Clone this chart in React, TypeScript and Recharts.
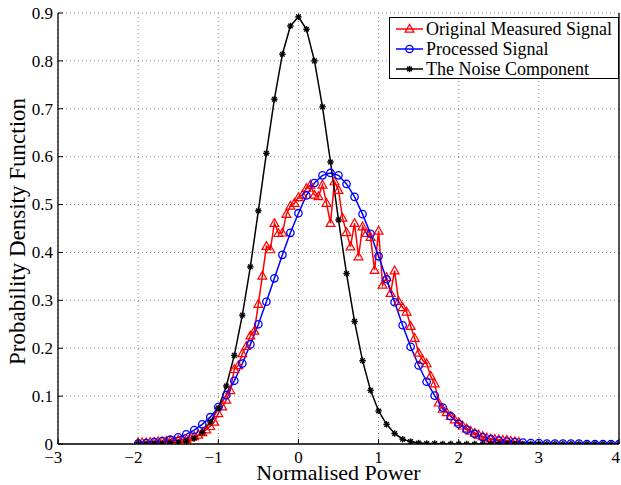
import { LineChart, Line, XAxis, YAxis, CartesianGrid, Legend } from 'recharts'

// sample grid of the processed signal and the noise component (step 0.1)
const GRID_X = [
  -2.0, -1.9, -1.8, -1.7, -1.6, -1.5, -1.4, -1.3, -1.2, -1.1,
  -1.0, -0.9, -0.8, -0.7, -0.6, -0.5, -0.4, -0.3, -0.2, -0.1,
  0.0, 0.1, 0.2, 0.3, 0.4, 0.5, 0.6, 0.7, 0.8, 0.9,
  1.0, 1.1, 1.2, 1.3, 1.4, 1.5, 1.6, 1.7, 1.8, 1.9,
  2.0, 2.1, 2.2, 2.3, 2.4, 2.5, 2.6, 2.7, 2.8, 2.9,
  3.0, 3.1, 3.2, 3.3, 3.4, 3.5, 3.6, 3.7, 3.8, 3.9, 4.0,
]

const PROCESSED = [
  0.001, 0.002, 0.004, 0.006, 0.009, 0.014, 0.020, 0.029, 0.041, 0.056,
  0.077, 0.102, 0.132, 0.168, 0.208, 0.250, 0.297, 0.346, 0.395, 0.441,
  0.482, 0.519, 0.545, 0.561, 0.566, 0.561, 0.543, 0.516, 0.480, 0.439,
  0.392, 0.344, 0.296, 0.248, 0.203, 0.164, 0.130, 0.101, 0.076, 0.058,
  0.042, 0.030, 0.021, 0.014, 0.010, 0.007, 0.005, 0.004, 0.003, 0.002,
  0.002, 0.001, 0.001, 0.001, 0.001, 0.001, 0.000, 0.000, 0.000, 0.000, 0.000,
]

const NOISE = [
  0.000, 0.000, 0.001, 0.001, 0.002, 0.003, 0.006, 0.012, 0.024, 0.046,
  0.075, 0.121, 0.185, 0.269, 0.370, 0.487, 0.607, 0.720, 0.814, 0.873,
  0.892, 0.866, 0.800, 0.704, 0.589, 0.468, 0.356, 0.256, 0.174, 0.112,
  0.069, 0.041, 0.022, 0.010, 0.005, 0.002, 0.001, 0.001, 0.000, 0.000,
  0.000, 0.000, 0.000, 0.000, 0.000, 0.000, 0.000, 0.000, 0.000, 0.000,
  0.000, 0.000, 0.000, 0.000, 0.000, 0.000, 0.000, 0.000, 0.000, 0.000, 0.000,
]

// the measured signal is binned finer (step 0.05)
const MEASURED_X = [
  -2.0, -1.95, -1.9, -1.85, -1.8, -1.75, -1.7, -1.65, -1.6, -1.55,
  -1.5, -1.45, -1.4, -1.35, -1.3, -1.25, -1.2, -1.15, -1.1, -1.05,
  -1.0, -0.95, -0.9, -0.85, -0.8, -0.75, -0.7, -0.65, -0.6, -0.55,
  -0.5, -0.45, -0.4, -0.35, -0.3, -0.25, -0.2, -0.15, -0.1, -0.05,
  0.0, 0.05, 0.1, 0.15, 0.2, 0.25, 0.3, 0.35, 0.4, 0.45,
  0.5, 0.55, 0.6, 0.65, 0.7, 0.75, 0.8, 0.85, 0.9, 0.95,
  1.0, 1.05, 1.1, 1.15, 1.2, 1.25, 1.3, 1.35, 1.4, 1.45,
  1.5, 1.55, 1.6, 1.65, 1.7, 1.75, 1.8, 1.85, 1.9, 1.95,
  2.0, 2.05, 2.1, 2.15, 2.2, 2.25, 2.3, 2.35, 2.4, 2.45,
  2.5, 2.55, 2.6, 2.65, 2.7, 2.75,
]

const MEASURED = [
  0.003, 0.003, 0.003, 0.004, 0.004, 0.005, 0.005, 0.006, 0.006, 0.007,
  0.008, 0.009, 0.010, 0.013, 0.016, 0.019, 0.024, 0.030, 0.037, 0.046,
  0.064, 0.078, 0.092, 0.112, 0.156, 0.164, 0.189, 0.204, 0.226, 0.236,
  0.292, 0.351, 0.413, 0.406, 0.461, 0.440, 0.441, 0.480, 0.497, 0.503,
  0.515, 0.520, 0.534, 0.541, 0.520, 0.517, 0.541, 0.503, 0.461, 0.548,
  0.530, 0.472, 0.442, 0.412, 0.461, 0.391, 0.454, 0.440, 0.432, 0.363,
  0.445, 0.332, 0.348, 0.315, 0.362, 0.298, 0.285, 0.276, 0.246, 0.221,
  0.190, 0.175, 0.168, 0.142, 0.126, 0.086, 0.073, 0.066, 0.058, 0.051,
  0.045, 0.038, 0.032, 0.027, 0.023, 0.019, 0.016, 0.013, 0.011, 0.010,
  0.009, 0.008, 0.008, 0.006, 0.005, 0.004,
]

const X_TICKS = [-3, -2, -1, 0, 1, 2, 3, 4]
const Y_TICKS = [0, 0.1, 0.2, 0.3, 0.4, 0.5, 0.6, 0.7, 0.8, 0.9]

const FONT = '"Liberation Serif", "Times New Roman", serif'
const TICK_SIZE = 17

const rows = (xs: number[], ys: number[]) => xs.map((x, i) => ({ x, y: ys[i] }))

const measuredRows = rows(MEASURED_X, MEASURED)
const processedRows = rows(GRID_X, PROCESSED)
const noiseRows = rows(GRID_X, NOISE)

function triangle(cx: number, cy: number, key?: any) {
  return (
    <path key={key} d={`M${cx},${cy - 4.6}L${cx + 4.4},${cy + 3.2}L${cx - 4.4},${cy + 3.2}Z`}
      fill="none" stroke="#ff0000" strokeWidth={1.2} />
  )
}

function circle(cx: number, cy: number, key?: any) {
  return <circle key={key} cx={cx} cy={cy} r={3.7} fill="none" stroke="#0000ff" strokeWidth={1.3} />
}

function star(cx: number, cy: number, key?: any) {
  const r = 3.2, d = 2.3
  return (
    <g key={key} stroke="#000" strokeWidth={1.4}>
      <line x1={cx - r} x2={cx + r} y1={cy} y2={cy} />
      <line x1={cx} x2={cx} y1={cy - r} y2={cy + r} />
      <line x1={cx - d} x2={cx + d} y1={cy - d} y2={cy + d} />
      <line x1={cx - d} x2={cx + d} y1={cy + d} y2={cy - d} />
    </g>
  )
}

const MARKERS = [triangle, circle, star]
const COLORS = ['#ff0000', '#0000ff', '#000000']

function BottomTick({ x, y, payload }: any) {
  const v = payload.value
  const label = v < 0 ? '\u2212' + Math.abs(v) : String(v)
  // digit centred on the tick, minus sign hanging to the left; keep the last one inside the page
  const right = Math.min(x + TICK_SIZE / 4, 620)
  return (
    <g>
      <line x1={x} x2={x} y1={y} y2={y - 5} stroke="#000" />
      <text x={right} y={y + 19} textAnchor="end" fontSize={TICK_SIZE} fontFamily={FONT} fill="#000">{label}</text>
    </g>
  )
}

function LeftTick({ x, y, payload }: any) {
  return (
    <g>
      <line x1={x} x2={x + 5} y1={y} y2={y} stroke="#000" />
      <text x={x - 5} y={y} dy="0.34em" textAnchor="end" fontSize={TICK_SIZE} fontFamily={FONT} fill="#000">{String(payload.value)}</text>
    </g>
  )
}

function TopTick({ x, y }: any) {
  return <line x1={x} x2={x} y1={y} y2={y + 5} stroke="#000" />
}

function RightTick({ x, y }: any) {
  return <line x1={x} x2={x - 5} y1={y} y2={y} stroke="#000" />
}

function yTitle({ viewBox }: any) {
  const cx = viewBox.x + 25
  const cy = viewBox.y + viewBox.height / 2 + 3
  return (
    <text x={cx} y={cy} transform={`rotate(-90 ${cx} ${cy})`} textAnchor="middle"
      fontSize={23} fontFamily={FONT} fill="#000">Probability Density Function</text>
  )
}

function xTitle({ viewBox }: any) {
  const cx = viewBox.x + viewBox.width / 2
  const cy = viewBox.y + viewBox.height - 5
  return <text x={cx} y={cy} textAnchor="middle" fontSize={22} fontFamily={FONT} fill="#000">Normalised Power</text>
}

function LegendBox({ payload }: any) {
  return (
    <div style={{ width: 228, height: 59, border: '1px solid #000', background: '#fff', paddingTop: 1, fontFamily: FONT, fontSize: 18, color: '#000' }}>
      {(payload || []).map((p: any, i: number) => (
        <div key={i} style={{ display: 'flex', alignItems: 'center', height: 20, lineHeight: '20px' }}>
          <svg width={36} height={20} style={{ flex: 'none' }}>
            <line x1={6} x2={33} y1={10} y2={10} stroke={COLORS[i]} strokeWidth={1.5} />
            {MARKERS[i](19.5, 10)}
          </svg>
          <span style={{ whiteSpace: 'nowrap' }}>{p.value}</span>
        </div>
      ))}
    </div>
  )
}

export default function App() {
  return (
    <div style={{ position: 'absolute', left: 0, top: 0, background: '#fff' }}>
      <LineChart width={621} height={485} margin={{ top: 13, right: 0, bottom: 0, left: 0 }}>
        <CartesianGrid stroke="#8c8c8c" strokeDasharray="1 3" />
        <XAxis dataKey="x" type="number" domain={[-3, 4]} ticks={X_TICKS} allowDataOverflow height={41}
          tickSize={0} tickMargin={0} tickLine={false} axisLine={{ stroke: '#000', strokeWidth: 1.3 }}
          tick={<BottomTick />} interval={0} label={xTitle} />
        <XAxis xAxisId="top" orientation="top" type="number" domain={[-3, 4]} ticks={X_TICKS} height={0}
          tickSize={0} tickMargin={0} tickLine={false} axisLine={{ stroke: '#000', strokeWidth: 1.3 }}
          tick={<TopTick />} interval={0} />
        <YAxis type="number" domain={[0, 0.9]} ticks={Y_TICKS} allowDataOverflow width={58}
          tickSize={0} tickMargin={0} tickLine={false} axisLine={{ stroke: '#000', strokeWidth: 1.3 }}
          tick={<LeftTick />} interval={0} label={yTitle} />
        <YAxis yAxisId="right" orientation="right" type="number" domain={[0, 0.9]} ticks={Y_TICKS} width={2}
          tickSize={0} tickMargin={0} tickLine={false} axisLine={{ stroke: '#000', strokeWidth: 1.3 }}
          tick={<RightTick />} interval={0} />
        <Legend verticalAlign="middle" align="center" content={<LegendBox />}
          wrapperStyle={{ top: 17, left: 389, width: 230, height: 61 }} />
        <Line data={measuredRows} dataKey="y" name="Original Measured Signal" stroke="#ff0000" strokeWidth={1.5}
          dot={(p: any) => triangle(p.cx, p.cy, p.index)} activeDot={false} isAnimationActive={false} />
        <Line data={processedRows} dataKey="y" name="Processed Signal" stroke="#0000ff" strokeWidth={1.5}
          dot={(p: any) => circle(p.cx, p.cy, p.index)} activeDot={false} isAnimationActive={false} />
        <Line data={noiseRows} dataKey="y" name="The Noise Component" stroke="#000000" strokeWidth={1.5}
          dot={(p: any) => star(p.cx, p.cy, p.index)} activeDot={false} isAnimationActive={false} />
      </LineChart>
    </div>
  )
}
